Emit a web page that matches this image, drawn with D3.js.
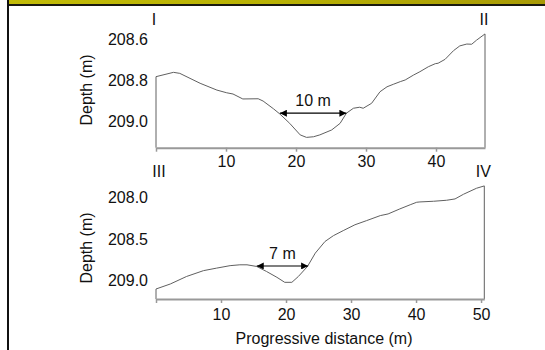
<!DOCTYPE html>
<html>
<head>
<meta charset="utf-8">
<script src="https://cdn.jsdelivr.net/npm/d3@7"></script>
<style>
  body { margin: 0; background: #fff; }
  svg { display: block; font-family: "Liberation Sans", Arial, sans-serif; }
</style>
</head>
<body>
<div id="chart"></div>
<script>
// ── Profile I–II ─────────────────────────────────────────────
const distTop  = [0, 2.5, 3.4, 6.3, 8.7, 10.1, 11.0, 12.4, 14.6, 15.3, 16.8, 17.7, 19.1, 20.6, 21.5, 22.5,
                  23.4, 25.1, 26.3, 27.2, 28.2, 29.1, 29.6, 30.8, 32.0, 33.0, 33.9, 34.9, 35.6, 36.8, 37.7,
                  38.9, 39.9, 40.3, 41.3, 42.5, 43.4, 44.4, 45.1, 45.8, 47.0];
const depthTop = [208.782, 208.761, 208.766, 208.814, 208.847, 208.860, 208.866, 208.890, 208.889, 208.900,
                  208.938, 208.963, 209.008, 209.064, 209.076, 209.073, 209.064, 209.040, 209.008, 208.959,
                  208.935, 208.930, 208.935, 208.911, 208.855, 208.831, 208.819, 208.806, 208.798, 208.774,
                  208.758, 208.734, 208.719, 208.717, 208.698, 208.656, 208.633, 208.624, 208.625, 208.605, 208.575];
const xTicksTop = [0, 10, 20, 30, 40];
const yTicksTop = [208.6, 208.8, 209.0];
const arrowTop  = { from: 17.7, to: 27.2, depth: 208.959, label: "10 m" };

// ── Profile III–IV ───────────────────────────────────────────
const distBot  = [0, 2.2, 4.7, 7.3, 9.3, 11.4, 12.9, 14.0, 15.5, 17.0, 18.6, 19.8, 20.9, 21.9, 23.3, 24.5,
                  26.0, 27.3, 28.8, 30.6, 32.4, 34.5, 35.7, 37.5, 39.1, 40.1, 40.6, 42.7, 44.7, 46.0, 47.3, 49.3, 50.5];
const depthBot = [209.10, 209.04, 208.95, 208.88, 208.85, 208.82, 208.81, 208.81, 208.83, 208.89, 208.96,
                  209.02, 209.02, 208.95, 208.83, 208.67, 208.53, 208.46, 208.40, 208.33, 208.28, 208.22,
                  208.20, 208.14, 208.09, 208.06, 208.056, 208.048, 208.036, 208.02, 207.964, 207.892, 207.864];
const xTicksBot = [0, 10, 20, 30, 40, 50];
const yTicksBot = [208.0, 208.5, 209.0];
const arrowBot  = { from: 15.5, to: 23.4, depth: 208.824, label: "7 m" };

const W = 545, H = 350;

const svg = d3.select("#chart").append("svg")
  .attr("width", W)
  .attr("height", H);

// ── Slide frame ──────────────────────────────────────────────
const grad = svg.append("defs").append("linearGradient")
  .attr("id", "bar").attr("x1", 0).attr("x2", 1);
grad.append("stop").attr("offset", 0).attr("stop-color", "#c2bb08");
grad.append("stop").attr("offset", 0.5).attr("stop-color", "#b9b204");
grad.append("stop").attr("offset", 1).attr("stop-color", "#a89a06");

svg.append("rect").attr("x", 8).attr("y", 0).attr("width", W - 8).attr("height", 5).attr("fill", "url(#bar)");
svg.append("rect").attr("x", 8).attr("y", 4).attr("width", W - 8).attr("height", 2).attr("fill", "#1a1a10");
svg.append("rect").attr("x", 7).attr("y", 0).attr("width", 2).attr("height", H).attr("fill", "#111");

// arrow head marker
const defs = svg.select("defs");
defs.append("marker")
  .attr("id", "head")
  .attr("viewBox", "0 0 10 10")
  .attr("refX", 10).attr("refY", 5)
  .attr("markerWidth", 9).attr("markerHeight", 7)
  .attr("markerUnits", "userSpaceOnUse")
  .attr("orient", "auto-start-reverse")
  .append("path")
  .attr("d", "M0,0 L10,5 L0,10 Z")
  .attr("fill", "#000");

function drawProfile(opt) {
  const x = d3.scaleLinear().domain(opt.xDomain).range(opt.xRange);
  const y = d3.scaleLinear().domain(opt.yDomain).range(opt.yRange);
  const base = opt.yDomain[1];

  const pts = opt.dist.map((d, i) => [d, opt.depth[i]]);
  const outline = [[opt.dist[0], base], ...pts, [opt.dist[opt.dist.length - 1], base]];

  svg.append("path")
    .datum(outline)
    .attr("fill", "none")
    .attr("stroke", "#606060")
    .attr("stroke-width", 1)
    .attr("d", d3.line().x(d => x(d[0])).y(d => y(d[1])));

  // x axis
  svg.append("g")
    .attr("transform", `translate(0,${opt.yRange[1]})`)
    .call(d3.axisBottom(x).tickValues(opt.xTicks).tickSize(4).tickSizeOuter(0).tickPadding(opt.tickPad)
      .tickFormat(d => d === 0 ? "" : d))
    .call(g => g.select(".domain").attr("stroke", "#999").attr("stroke-width", 2))
    .call(g => g.selectAll(".tick line").attr("stroke", "#999").attr("stroke-width", 1.5))
    .call(g => g.selectAll("text").attr("font-size", 16).attr("fill", "#111")
      .attr("font-family", "Liberation Sans, Arial, sans-serif"));

  // y axis (labels only)
  svg.append("g")
    .attr("transform", `translate(${opt.xRange[0]},0)`)
    .call(d3.axisLeft(y).tickValues(opt.yTicks).tickSize(0).tickPadding(8).tickFormat(d3.format(".1f")))
    .call(g => g.select(".domain").remove())
    .call(g => g.selectAll("text").attr("font-size", 16).attr("fill", "#111")
      .attr("font-family", "Liberation Sans, Arial, sans-serif"));

  // y title
  svg.append("text")
    .attr("transform", `translate(92,${opt.titleY}) rotate(-90)`)
    .attr("text-anchor", "middle")
    .attr("font-size", 16)
    .attr("fill", "#111")
    .text("Depth (m)");

  // section end labels
  svg.append("text")
    .attr("x", x(opt.dist[0]) + opt.startDx).attr("y", opt.endY)
    .attr("text-anchor", "middle").attr("font-size", 16).attr("fill", "#111")
    .text(opt.startLabel);
  svg.append("text")
    .attr("x", x(opt.dist[opt.dist.length - 1]) - 1).attr("y", opt.endY)
    .attr("text-anchor", "middle").attr("font-size", 16).attr("fill", "#111")
    .text(opt.endLabel);

  // width arrow
  const a = opt.arrow;
  svg.append("line")
    .attr("x1", x(a.from)).attr("x2", x(a.to))
    .attr("y1", y(a.depth)).attr("y2", y(a.depth))
    .attr("stroke", "#000").attr("stroke-width", 1.2)
    .attr("marker-start", "url(#head)")
    .attr("marker-end", "url(#head)");
  svg.append("text")
    .attr("x", x((a.from + a.to) / 2))
    .attr("y", y(a.depth) - 7)
    .attr("text-anchor", "middle").attr("font-size", 16).attr("fill", "#111")
    .text(a.label);
}

drawProfile({
  dist: distTop, depth: depthTop,
  xDomain: [0, 47], xRange: [156, 485],
  yDomain: [208.556, 209.126], yRange: [30, 147.7],
  xTicks: xTicksTop, yTicks: yTicksTop, tickPad: 4,
  arrow: arrowTop, titleY: 90, endY: 25,
  startLabel: "I", endLabel: "II", startDx: -2
});

drawProfile({
  dist: distBot, depth: depthBot,
  xDomain: [0, 50.5], xRange: [156, 484.3],
  yDomain: [207.853, 209.22], yRange: [185, 299],
  xTicks: xTicksBot, yTicks: yTicksBot, tickPad: 6,
  arrow: arrowBot, titleY: 248, endY: 177,
  startLabel: "III", endLabel: "IV", startDx: 3
});

svg.append("text")
  .attr("x", 324).attr("y", 344)
  .attr("text-anchor", "middle")
  .attr("font-size", 16)
  .attr("fill", "#111")
  .text("Progressive distance (m)");
</script>
</body>
</html>
